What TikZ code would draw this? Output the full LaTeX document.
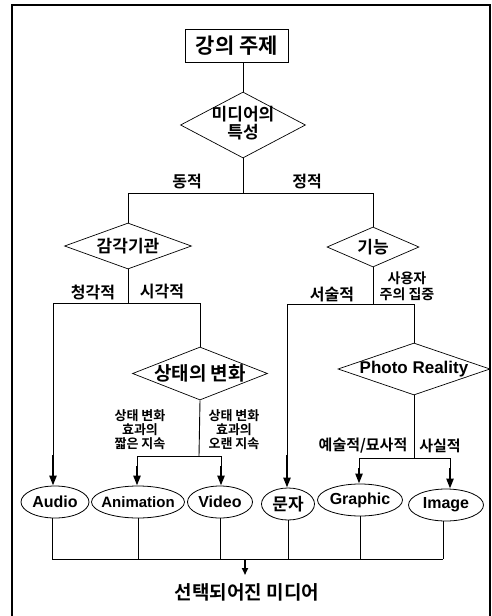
\documentclass[tikz,border=0pt]{standalone}
\usepackage{fontspec}
\setmainfont{Noto Sans CJK KR}[BoldFont={* Bold}]
\newfontfamily\lat{Liberation Sans}
\usetikzlibrary{shapes.geometric,arrows.meta}
\newcommand{\fs}[1]{\fontsize{#1}{#1}\selectfont}
\newcommand{\zb}[1]{\makebox[0pt]{#1}}
\begin{document}
\begin{tikzpicture}[x=1pt,y=-1pt,
  line/.style={line width=0.9pt},
  dia/.style={diamond, draw, line width=0.7pt, inner sep=0pt, font=\bfseries\fs{17}},
  ell/.style={ellipse, draw, line width=0.8pt, inner sep=0pt, minimum height=32pt, font=\lat\bfseries\fs{16}},
  lbl/.style={font=\bfseries\fs{16}, inner sep=0pt},
  sml/.style={font=\bfseries\fs{13}, inner sep=0pt, align=center},
  arr/.style={line width=2.2pt, -{Triangle[length=10pt,width=7pt]}},
  arrs/.style={line width=1.8pt, -{Triangle[length=7pt,width=6pt]}}]
\useasboundingbox (0,0) rectangle (492,616);
\draw[line width=1.5pt] (12,620) -- (12,5) -- (490,5) -- (490,620);

% title
\node[draw, line width=1pt, minimum width=103pt, minimum height=33pt, inner sep=0pt, font=\bfseries\fs{21}] (title) at (237,45.5) {\zb{강의 주제}};
\node[dia, minimum width=125pt, minimum height=66pt] (d1) at (243,125)
  {\zb{\begin{tabular}{@{}c@{}}미디어의\\[-1pt]특성\end{tabular}}};
\draw[line] (d1.north) -- (d1.north |- title.south);

% first branch
\coordinate (b1) at (243,193);
\coordinate (b1l) at (128,193);
\coordinate (b1r) at (373,193);
\draw[line] (d1.south) -- (b1);
\draw[line] (b1l) -- (b1r);
\node[lbl] (ldong) at (187,182) {동적};
\node[lbl] (ljeong) at (307,182) {정적};

\node[dia, minimum width=127pt, minimum height=46pt] (d2) at (128,246) {\zb{감각기관}};
\node[dia, minimum width=92pt, minimum height=40pt] (d3) at (373,247) {\zb{기능}};
\draw[line] (b1l) -- (d2.north);
\draw[line] (b1r) -- (d3.north);

% left branch
\coordinate (b2) at (128,303);
\coordinate (b2l) at (53,303);
\coordinate (b2r) at (200,303);
\draw[line] (d2.south) -- (b2);
\draw[line] (b2l) -- (b2r);
\node[lbl] (lcheong) at (93,292) {청각적};
\node[lbl] (lsi) at (162,292) {시각적};

\node[dia, minimum width=135pt, minimum height=53pt, font=\bfseries\fs{19}] (d4) at (200,373.5) {\zb{상태의 변화}};
\draw[line] (b2r) -- (d4.north);

\coordinate (b4) at (199,456);
\coordinate (b4l) at (137,456);
\coordinate (b4r) at (221,456);
\draw[line] (d4.south) -- (b4);
\draw[line] (b4l) -- (b4r);
\node[sml] (lshort) at (140,429.5) {상태 변화\\[1pt]효과의\\[1pt]짧은 지속};
\node[sml] (llong) at (234,429.5) {상태 변화\\[1pt]효과의\\[1pt]오랜 지속};

% right branch
\coordinate (b3) at (373,304);
\coordinate (b3l) at (287,304);
\coordinate (b3r) at (414,304);
\draw[line] (d3.south) -- (b3);
\draw[line] (b3l) -- (b3r);
\node[lbl] (lseo) at (332,295) {서술적};
\node[sml, font=\bfseries\fs{14}] (luser) at (407,286) {사용자\\[2pt]주의 집중};

\node[dia, minimum width=152pt, minimum height=52pt, font=\lat\bfseries\fs{17}] (d5) at (414,369) {\zb{Photo Reality}};
\draw[line] (b3r) -- (d5.north);

\coordinate (b5) at (414,458);
\coordinate (b5l) at (359,458);
\coordinate (b5r) at (450,458);
\draw[line] (d5.south) -- (b5);
\draw[line] (b5l) -- (b5r);
\node[sml, font=\bfseries\fs{15}] (lart) at (363,446) {예술적/묘사적};
\node[sml, font=\bfseries\fs{15}] (lreal) at (440,446) {사실적};

% media
\node[ell, minimum width=68pt] (m1) at (55,502) {\zb{Audio}};
\node[ell, minimum width=93pt, font=\lat\bfseries\fs{15}] (m2) at (138,502) {\zb{Animation}};
\node[ell, minimum width=65pt] (m3) at (220,502) {\zb{Video}};
\node[ell, minimum width=53pt, font=\bfseries\fs{17}] (m4) at (288,504) {\zb{문자}};
\node[ell, minimum width=85pt] (m5) at (360,500) {\zb{Graphic}};
\node[ell, minimum width=75pt] (m6) at (446,505) {\zb{Image}};

% arrows into media
\coordinate (t1) at (53,455);
\coordinate (t4) at (287,455);
\coordinate (t2) at (137,466);
\coordinate (t3) at (221,466);
\coordinate (t5) at (359,468);
\coordinate (t6) at (450,468);
\draw[line] (b2l) -- (t1);
\draw[line] (b3l) -- (t4);
\draw[line] (b4l) -- (t2);
\draw[line] (b4r) -- (t3);
\draw[line] (b5l) -- (t5);
\draw[line] (b5r) -- (t6);
\draw[arr] (t1) -- (t1 |- m1.north);
\draw[arr] (t2) -- (t2 |- m2.north);
\draw[arr] (t3) -- (t3 |- m3.north);
\draw[arr] (t4) -- (t4 |- m4.north);
\draw[arr] (t5) -- (t5 |- m5.north);
\draw[arr] (t6) -- (t6 |- m6.north);

% bottom collection
\coordinate (c1) at (52,559);
\coordinate (c6) at (443,559);
\draw[line] (m1.south -| c1) -- (c1);
\draw[line] (m2.south) -- (m2.south |- c1);
\draw[line] (m3.south) -- (m3.south |- c1);
\draw[line] (m4.south) -- (m4.south |- c1);
\draw[line] (m5.south) -- (m5.south |- c1);
\draw[line] (m6.south -| c6) -- (c6);
\draw[line] (c1) -- (c6);
\node[font=\bfseries\fs{19}, inner sep=0pt] (res) at (247,592) {선택되어진 미디어};
\coordinate (cb) at (245,559);
\coordinate (ce) at (245,575);
\draw[arrs] (cb) -- (ce);
\end{tikzpicture}
\end{document}
